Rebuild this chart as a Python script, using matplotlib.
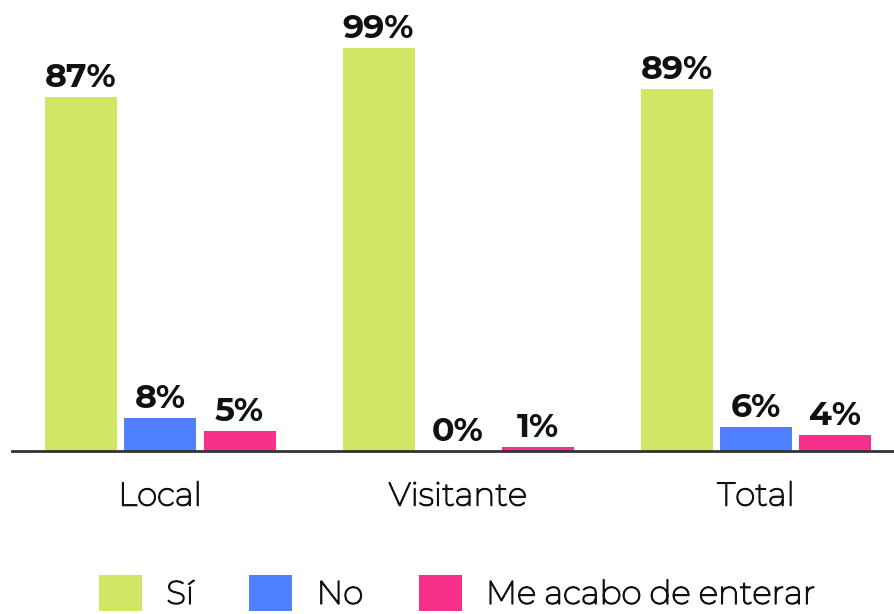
import matplotlib
matplotlib.use("Agg")
import matplotlib.pyplot as plt
import matplotlib.patheffects as pe
import numpy as np

categories = ["Local", "Visitante", "Total"]
series_names = ["Sí", "No", "Me acabo de enterar"]
si = [87, 99, 89]
no = [8, 0, 6]
me = [5, 1, 4]
colors = ["#D0E766", "#4F80FF", "#F7318A"]

plt.rcParams['font.family'] = ['Montserrat', 'DejaVu Sans']
thick = [pe.withStroke(linewidth=1.05, foreground="#111111")]

fig = plt.figure(figsize=(8.94, 6.14), dpi=100)
W, H = 894, 614
ax = fig.add_axes([12 / W, (614 - 451) / H, (894 - 12) / W, 451 / H])

x = np.arange(len(categories))
bw = 72 / 298
off = 79.5 / 298
handles = []
for i, (vals, c, name) in enumerate(zip([si, no, me], colors, series_names)):
    pos = x + (i - 1) * off
    b = ax.bar(pos, vals, width=bw, color=c, label=name, zorder=2)
    handles.append(b)
    for p, v in zip(pos, vals):
        ax.text(p, v + 1.0, f"{v}%", ha="center", va="bottom",
                fontsize=24, fontweight="bold", color="#111111",
                family=["Montserrat Alternates", "DejaVu Sans"])

ax.set_xlim((12 - 160) / 298, (894 - 160) / 298)
ax.set_ylim(0, 451 / 4.07)
for s in ["top", "right", "left"]:
    ax.spines[s].set_visible(False)
ax.spines["bottom"].set_color("#333333")
ax.spines["bottom"].set_linewidth(2)
ax.spines["bottom"].set_zorder(3)
ax.set_yticks([])
ax.set_xticks(x)
ax.set_xticklabels(categories, fontsize=23.5, color="#111111")
for t in ax.get_xticklabels():
    t.set_path_effects(thick)
ax.tick_params(axis="x", length=0, pad=22)

leg = fig.legend(handles=handles, labels=series_names, loc="center",
                 bbox_to_anchor=(457 / W, 1 - 593 / H), ncol=3, frameon=False,
                 fontsize=23.5, handlelength=1.32, handleheight=1.35,
                 handletextpad=0.74, columnspacing=1.7, borderaxespad=0,
                 borderpad=0)
for t in leg.get_texts():
    t.set_color("#111111")
    t.set_path_effects(thick)

fig.savefig("out.png", dpi=100)
